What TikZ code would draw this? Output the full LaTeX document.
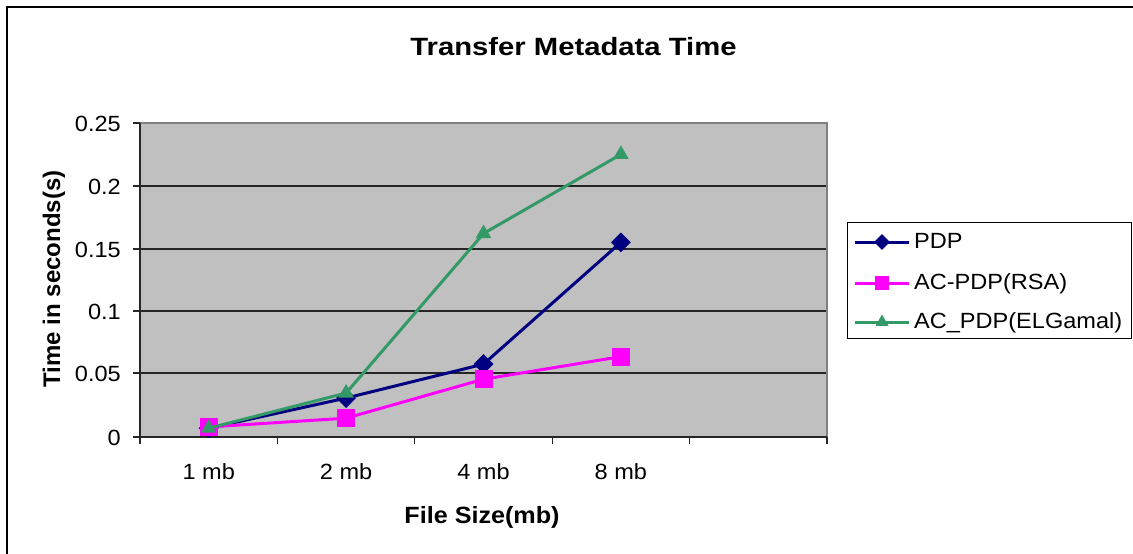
\documentclass[tikz,border=0pt]{standalone}
\usepackage{fontspec}
\setmainfont{Liberation Sans}
\newfontfamily\tickfont[FakeStretch=1.07]{Liberation Sans}
\newfontfamily\headfont[FakeStretch=1.17]{Liberation Sans}
\usetikzlibrary{shapes.geometric}
\definecolor{pdpblue}{HTML}{000080}
\definecolor{rsamag}{HTML}{FF00FF}
\definecolor{elggreen}{HTML}{339966}
\definecolor{plotgray}{HTML}{C0C0C0}
\begin{document}
\begin{tikzpicture}[x=1pt,y=-1pt,
  series/.style={line width=3pt, line join=round},
  gridline/.style={line width=1.1pt, black!85},
  axisline/.style={line width=1.3pt, black!85},
  ticklabel/.style={font=\tickfont\fontsize{22}{24}\selectfont, inner sep=0pt},
  axislabel/.style={font=\bfseries\fontsize{24}{26}\selectfont, inner sep=0pt},
  pdpmark/.style={diamond, fill=pdpblue, inner sep=0pt, minimum size=20pt},
  rsamark/.style={rectangle, fill=rsamag, inner sep=0pt, minimum size=18pt},
  elgmark/.style={regular polygon, regular polygon sides=3, fill=elggreen, inner sep=0pt, minimum size=18pt},
  pdpkey/.style={pdpmark, minimum size=16pt},
  rsakey/.style={rsamark, minimum size=14pt},
  elgkey/.style={elgmark, minimum size=15pt},
  keytext/.style={font=\tickfont\fontsize{22}{24}\selectfont, inner sep=0pt, anchor=base west}]
\useasboundingbox (0,0) rectangle (1133,554);
\fill[white] (0,0) rectangle (1133,554);

% chart frame
\draw[line width=1.5pt] (7,554) -- (7,7) -- (1133,7);

% title
\node[font=\headfont\bfseries\fontsize{25}{28}\selectfont, inner sep=0pt, anchor=base] (title) at (573.5,55) {Transfer Metadata Time};

% plot area
\fill[plotgray] (140,123) rectangle (827,437);
\foreach \gy in {186,249,311,373}
  \draw[gridline] (140,\gy) -- (827,\gy);
\draw[line width=1.5pt, black!50] (140,123) -- (827,123) -- (827,437);
\draw[axisline] (140,123) -- (140,437) -- (827,437);

% value axis
\foreach \gy/\lab [count=\k] in {437/0,373/0.05,311/0.1,249/0.15,186/0.2,123/0.25} {
  \draw[axisline] (133,\gy) -- (140,\gy);
  \node[ticklabel, anchor=base east] (ytick-\k) at (121,\gy+8) {\lab};
}

% category axis
\foreach \gx in {140,277.4,414.8,552.2,689.6,827}
  \draw[axisline] (\gx,437) -- (\gx,444);
\foreach \lab [count=\k] in {1 mb,2 mb,4 mb,8 mb}
  \node[ticklabel, anchor=base] (xtick-\k) at (140+137.4*\k-68.7,479) {\lab};

% axis titles
\node[axislabel, anchor=base, rotate=90] (ylabel) at (60,279) {Time in seconds(s)};
\node[axislabel, font=\tickfont\bfseries\fontsize{23.5}{26}\selectfont, anchor=base] (xlabel) at (482,523) {File Size(mb)};

% data series (category, seconds)
\begin{scope}[shift={(140,437)}, x=137.4pt, y=1256pt]
  \foreach \v [count=\k] in {0.007,0.031,0.058,0.155}
    \coordinate (pdp-\k) at (\k-0.5,\v);
  \foreach \v [count=\k] in {0.008,0.015,0.046,0.064}
    \coordinate (rsa-\k) at (\k-0.5,\v);
  \foreach \v [count=\k] in {0.007,0.035,0.162,0.225}
    \coordinate (elg-\k) at (\k-0.5,\v);
\end{scope}

\draw[series, pdpblue] (pdp-1) -- (pdp-2) -- (pdp-3) -- (pdp-4);
\foreach \k in {1,...,4} \node[pdpmark] (pdpm-\k) at (pdp-\k) {};
\draw[series, rsamag] (rsa-1) -- (rsa-2) -- (rsa-3) -- (rsa-4);
\foreach \k in {1,...,4} \node[rsamark] (rsam-\k) at (rsa-\k) {};
\draw[series, elggreen] (elg-1) -- (elg-2) -- (elg-3) -- (elg-4);
\foreach \k in {1,...,4} \node[elgmark] (elgm-\k) at (elg-\k) {};

% legend
\node[draw=black, line width=1.2pt, fill=white, minimum width=284pt, minimum height=116pt, inner sep=0pt, anchor=north west] (legend) at (847,222) {};
\coordinate (ka1) at (855,242); \coordinate (kb1) at (909,242);
\coordinate (ka2) at (855,283); \coordinate (kb2) at (909,283);
\coordinate (ka3) at (855,322); \coordinate (kb3) at (909,322);
\draw[series, pdpblue] (ka1) -- (kb1);
\node[pdpkey] (key-pdp) at (882,242) {};
\draw[series, rsamag] (ka2) -- (kb2);
\node[rsakey] (key-rsa) at (882,283) {};
\draw[series, elggreen] (ka3) -- (kb3);
\node[elgkey] (key-elg) at (882,322) {};
\node[keytext] (txt-pdp) at (914,248) {PDP};
\node[keytext] (txt-rsa) at (914,289) {AC-PDP(RSA)};
\node[keytext] (txt-elg) at (914,328) {AC\_PDP(ELGamal)};
\end{tikzpicture}
\end{document}
